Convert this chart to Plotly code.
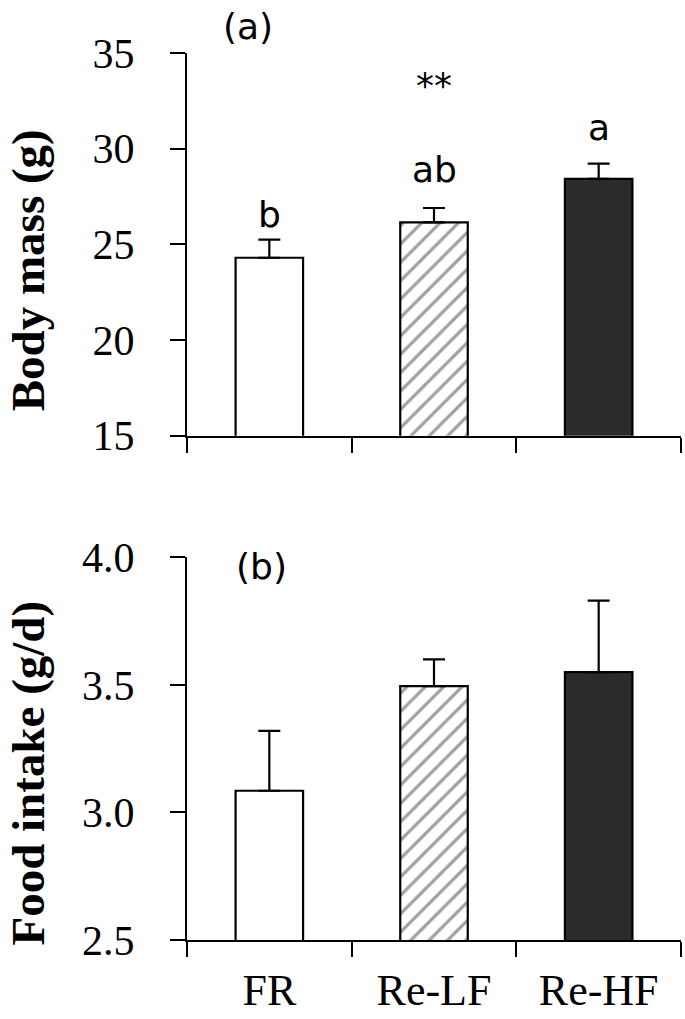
import plotly.graph_objects as go
from plotly.subplots import make_subplots

categories = ["FR", "Re-LF", "Re-HF"]
body_mass = [24.3, 26.15, 28.42]
body_mass_se = [0.95, 0.75, 0.80]
food_intake = [3.085, 3.495, 3.55]
food_intake_se = [0.235, 0.105, 0.28]
sig_letters = ["b", "ab", "a"]
bm_ticks = [15, 20, 25, 30, 35]
fi_ticks = [2.5, 3.0, 3.5, 4.0]
fi_tick_labels = ["2.5", "3.0", "3.5", "4.0"]

fills = ["white", "white", "#2b2b2b"]
patterns = ["", "/", ""]

W, H = 685, 1019
ML, MR, MT, MB = 187, 4, 53, 76

fig = make_subplots(rows=2, cols=1, vertical_spacing=0.137, shared_xaxes=False)

def bars(y, err):
    return go.Bar(
        x=categories, y=y, width=0.41,
        marker=dict(color=fills, line=dict(color="black", width=2.2),
                    pattern=dict(shape=patterns, fgcolor="black", bgcolor="white",
                                 size=13, solidity=0.25, fillmode="overlay")),
        error_y=dict(type="data", array=err, arrayminus=[0, 0, 0], symmetric=False,
                     color="black", thickness=2.2, width=11),
        showlegend=False,
    )

fig.add_trace(bars(body_mass, body_mass_se), row=1, col=1)
fig.add_trace(bars(food_intake, food_intake_se), row=2, col=1)

serif = "Liberation Serif, Times New Roman, serif"
sans = "DejaVu Sans, Verdana, sans-serif"

axis_common = dict(showline=True, linecolor="black", linewidth=2.2, ticks="outside",
                   tickcolor="black", tickwidth=2.2, ticklen=15, showgrid=False,
                   zeroline=False, mirror=False)

fig.update_xaxes(**axis_common, tickson="boundaries", range=[-0.5, 2.5])
fig.update_xaxes(showticklabels=False, row=1, col=1)
fig.update_xaxes(tickfont=dict(family=serif, size=44, color="black"),
                 ticklabelstandoff=10, row=2, col=1)
fig.update_yaxes(**axis_common, tickfont=dict(family=serif, size=42, color="black"),
                 ticklabelstandoff=27)
fig.update_yaxes(range=[15, 35], tickvals=bm_ticks, row=1, col=1)
fig.update_yaxes(range=[2.5, 4.0], tickvals=fi_ticks, ticktext=fi_tick_labels, row=2, col=1)

top_bottom = (H - MB - 437) / (H - MT - MB)
bot_top = (H - MB - 559) / (H - MT - MB)
fig.update_layout(yaxis=dict(domain=[top_bottom, 1.0]), yaxis2=dict(domain=[0.0, bot_top]))

letter_y = [26.54, 28.93, 31.12]
for c, t, yy in zip(categories, sig_letters, letter_y):
    fig.add_annotation(x=c, y=yy, xref="x", yref="y", text=t, showarrow=False,
                       font=dict(family=sans, size=36, color="black"), yanchor="middle")
fig.add_annotation(x="Re-LF", y=33.3, xref="x", yref="y", text="**", showarrow=False,
                   font=dict(family=sans, size=36, color="black"), yanchor="middle")
fig.add_annotation(x=-0.13, y=(437 - 26) / 384, xref="x", yref="y domain", text="(a)",
                   showarrow=False, font=dict(family=sans, size=36, color="black"),
                   yanchor="middle")
fig.add_annotation(x=-0.045, y=3.965, xref="x2", yref="y2", text="(b)", showarrow=False,
                   font=dict(family=sans, size=36, color="black"), yanchor="middle")

plot_w = W - ML - MR
plot_h = H - MT - MB
fig.add_annotation(x=(28 - ML) / plot_w, y=(H - MB - 271) / plot_h, xref="paper", yref="paper",
                   text="<b>Body mass (g)</b>", textangle=-90, showarrow=False,
                   font=dict(family=serif, size=47, color="black"),
                   xanchor="center", yanchor="middle")
fig.add_annotation(x=(28 - ML) / plot_w, y=(H - MB - 776) / plot_h, xref="paper", yref="paper",
                   text="<b>Food intake (g/d)</b>", textangle=-90, showarrow=False,
                   font=dict(family=serif, size=47, color="black"),
                   xanchor="center", yanchor="middle")

fig.update_layout(width=W, height=H, margin=dict(l=ML, r=MR, t=MT, b=MB),
                  plot_bgcolor="white", paper_bgcolor="white", bargap=0.59)

fig.write_html("out.html", config={"displayModeBar": False},
               post_script="document.body.style.margin='0';document.body.style.overflow='hidden';")
